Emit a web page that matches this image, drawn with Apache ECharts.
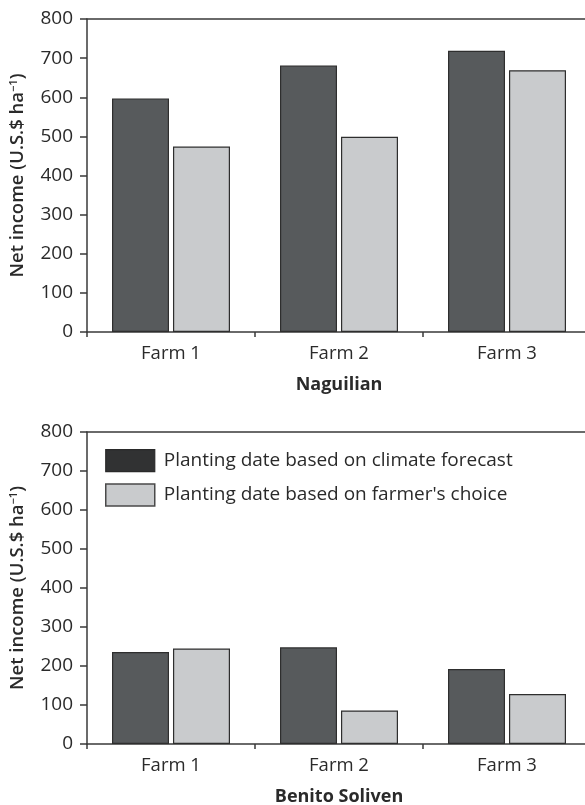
<!DOCTYPE html>
<html>
<head>
<meta charset="utf-8">
<script src="https://cdn.jsdelivr.net/npm/echarts@6/dist/echarts.min.js"></script>
<style>html,body{margin:0;padding:0;background:#fff}#c{width:585px;height:805px}</style>
</head>
<body>
<div id="c"></div>
<script>
const categories = ['Farm 1', 'Farm 2', 'Farm 3'];
const seriesNames = ['Planting date based on climate forecast', "Planting date based on farmer's choice"];
const naguilianForecast = [597, 681, 719];
const naguilianFarmer = [474, 499, 669];
const benitoForecast = [236, 248, 192];
const benitoFarmer = [245, 86, 128];
const yTicks = [0, 100, 200, 300, 400, 500, 600, 700, 800];
const siteNames = ['Naguilian', 'Benito Soliven'];

const FONT = 'Open Sans';
const TXT = '#2a2a2a';
const AX = '#3a3a3a';
const darkStyle = { color: '#575a5c', borderColor: '#2e2e2e', borderWidth: 1.2 };
const lightStyle = { color: '#c9cbcd', borderColor: '#2e2e2e', borderWidth: 1.2 };

function yAxis(gi) {
  return {
    type: 'value', gridIndex: gi, min: yTicks[0], max: yTicks[yTicks.length - 1], interval: 100,
    name: 'Net income (U.S.$ ha{sup|−1})', nameLocation: 'middle', nameGap: 59,
    nameTextStyle: { fontFamily: FONT, fontSize: 18.5, fontWeight: 600, color: TXT,
      rich: { sup: { fontFamily: FONT, fontSize: 11, fontWeight: 600, color: TXT, verticalAlign: 'top', padding: [0, 0, 9, 0] } } },
    axisLine: { show: true, lineStyle: { color: AX, width: 1.5 } },
    axisTick: { show: true, length: 7, lineStyle: { color: AX, width: 1.5 } },
    axisLabel: { fontFamily: FONT, fontSize: 19, color: TXT, margin: 14 },
    splitLine: { show: false }
  };
}
function xAxis(gi, name) {
  return {
    type: 'category', gridIndex: gi, data: categories, position: 'bottom',
    name: name, nameLocation: 'middle', nameGap: 44,
    nameTextStyle: { fontFamily: FONT, fontSize: 18, fontWeight: 'bold', color: TXT },
    axisLine: { show: true, lineStyle: { color: AX, width: 1.5 } },
    axisTick: { show: true, length: 5, alignWithLabel: false, lineStyle: { color: AX, width: 1.5 } },
    axisLabel: { fontFamily: FONT, fontSize: 18.5, color: TXT, margin: 12 }
  };
}
function topAxis(gi) {
  return {
    type: 'category', gridIndex: gi, data: categories, position: 'top',
    axisLine: { show: true, lineStyle: { color: AX, width: 1.5 } },
    axisTick: { show: false }, axisLabel: { show: false }, splitLine: { show: false }
  };
}
function bar(gi, name, data, style) {
  return { type: 'bar', name: name, xAxisIndex: gi, yAxisIndex: gi, data: data,
    barWidth: 57, barGap: '7%', itemStyle: style };
}

const chart = echarts.init(document.getElementById('c'), null, { renderer: 'canvas' });
chart.setOption({
  animation: false,
  backgroundColor: '#fff',
  grid: [
    { left: 87, top: 19, height: 313, width: 504, outerBoundsMode: 'none', containLabel: false, show: false },
    { left: 87, top: 432, height: 312, width: 504, outerBoundsMode: 'none', containLabel: false, show: false }
  ],
  legend: {
    orient: 'vertical', left: 105, top: 449, padding: 0, itemWidth: 49, itemHeight: 22, itemGap: 11,
    icon: 'rect',
    data: [
      { name: seriesNames[0], itemStyle: { color: '#313233', borderColor: '#2a2a2a', borderWidth: 1.2 } },
      { name: seriesNames[1], itemStyle: { color: '#c9cbcd', borderColor: '#4a4a4a', borderWidth: 1.5 } }
    ],
    textStyle: { fontFamily: FONT, fontSize: 19, color: TXT, padding: [0, 0, 0, 4] }
  },
  xAxis: [xAxis(0, siteNames[0]), xAxis(1, siteNames[1]), topAxis(0), topAxis(1)],
  yAxis: [yAxis(0), yAxis(1)],
  series: [
    bar(0, seriesNames[0], naguilianForecast, darkStyle),
    bar(0, seriesNames[1], naguilianFarmer, lightStyle),
    bar(1, seriesNames[0], benitoForecast, darkStyle),
    bar(1, seriesNames[1], benitoFarmer, lightStyle)
  ]
});
</script>
</body>
</html>
